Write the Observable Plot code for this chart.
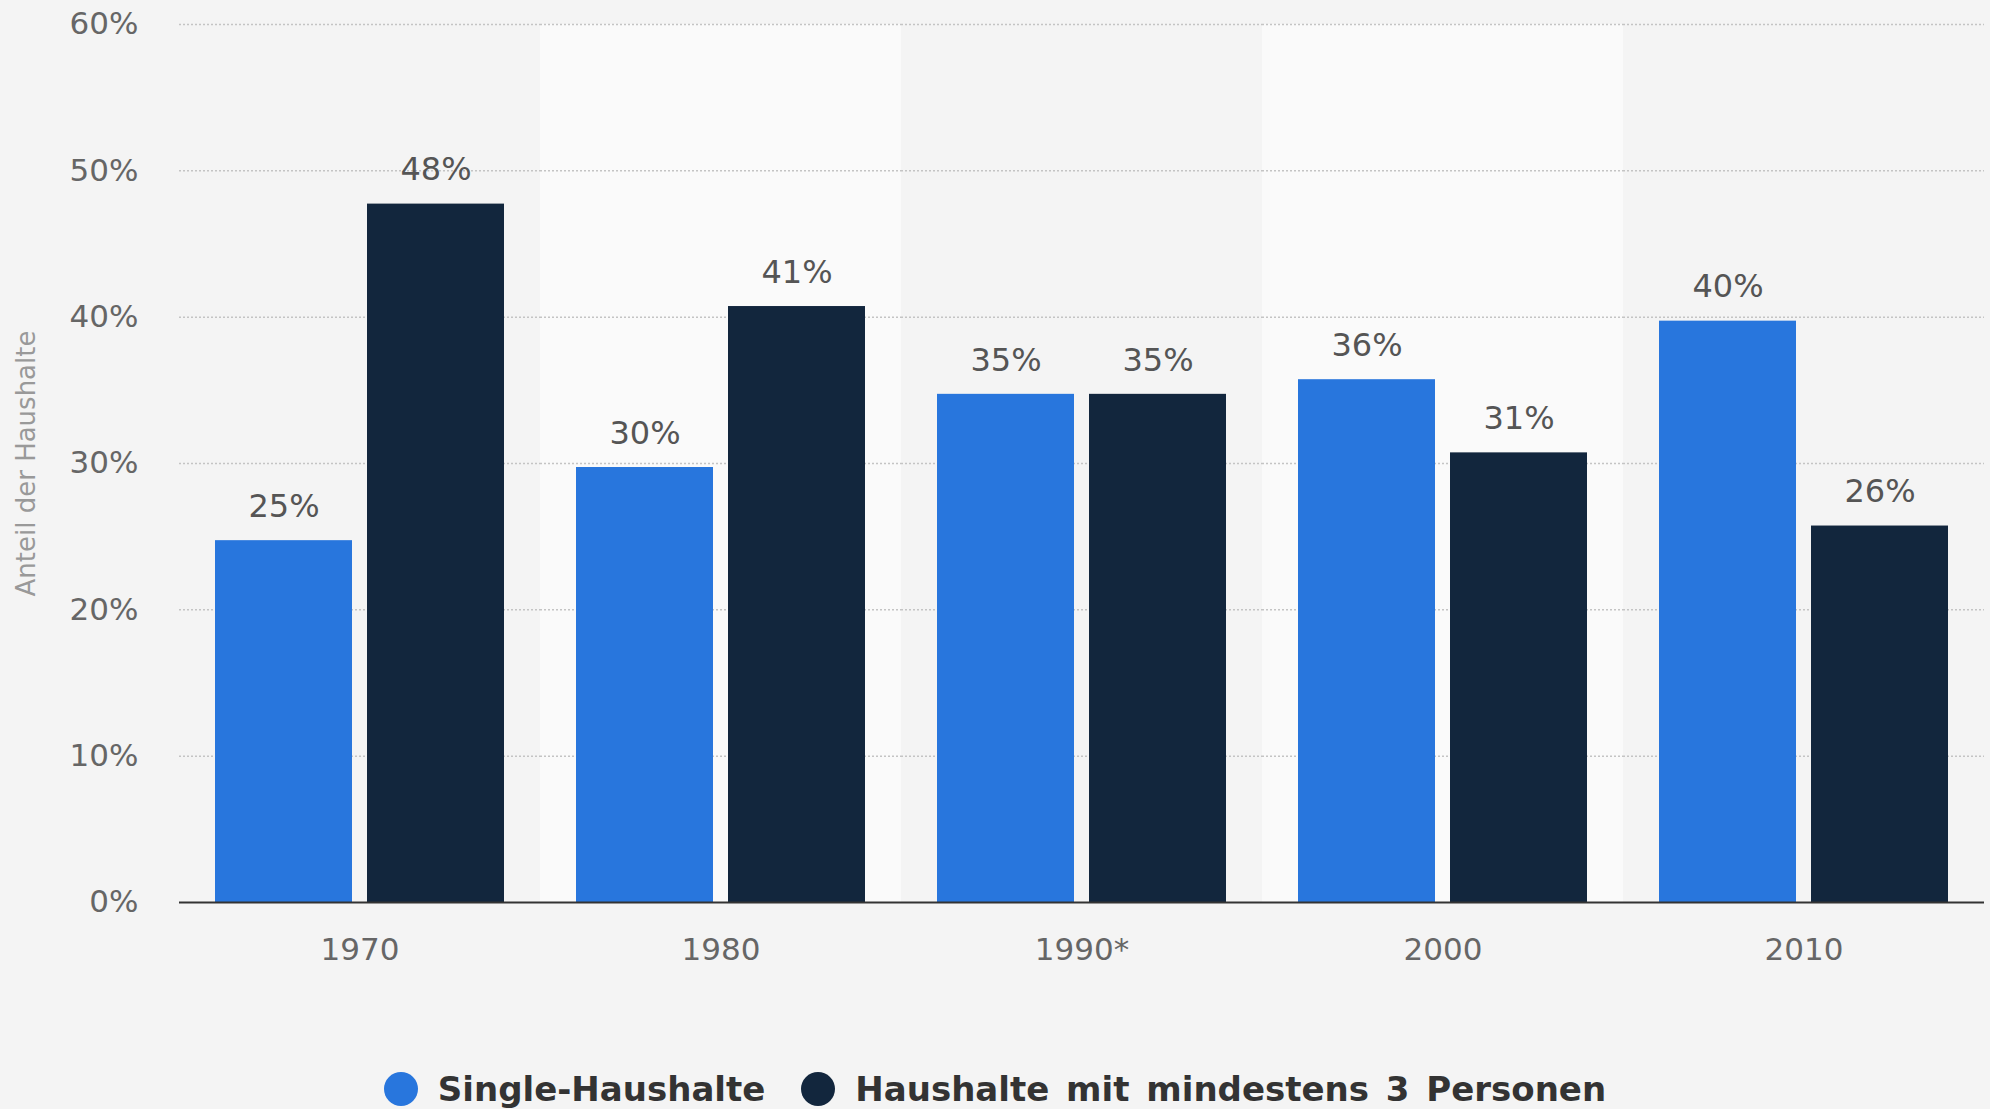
<!DOCTYPE html>
<html><head><meta charset="utf-8">
<script src="https://cdn.jsdelivr.net/npm/d3@7"></script>
<script src="https://cdn.jsdelivr.net/npm/@observablehq/plot@0.6"></script>
<style>
html,body{margin:0;padding:0;background:#f4f4f4;overflow:hidden;}
#chart{width:1990px;height:1050px;}
#legend{height:59px;box-sizing:border-box;padding-top:22px;display:flex;justify-content:center;align-items:flex-start;font-family:"DejaVu Sans",sans-serif;font-weight:bold;font-size:34px;color:#333;overflow:hidden;word-spacing:5px;}
.item{display:flex;align-items:center;height:34px;margin:0 18px;}
.sw{width:34px;height:34px;border-radius:50%;display:inline-block;margin-right:20px;}
</style></head><body>
<div id="chart"></div>
<div id="legend"></div>
<script>
const years = ["1970", "1980", "1990*", "2000", "2010"];
const seriesNames = ["Single-Haushalte", "Haushalte mit mindestens 3 Personen"];
const singleValues = [25, 30, 35, 36, 40];
const multiValues = [48, 41, 35, 31, 26];
const yTicks = [0, 10, 20, 30, 40, 50, 60];
const shadedYears = ["1980", "2000"];
const seriesColors = ["#2876dd", "#12263d"];
const yTitle = "Anteil der Haushalte";

const data = [];
years.forEach((y, i) => {
  data.push({year: y, series: seriesNames[0], value: singleValues[i]});
  data.push({year: y, series: seriesNames[1], value: multiValues[i]});
});
const bands = years.map(y => ({year: y, shaded: shadedYears.includes(y)}));

const chart = Plot.plot({
  width: 1990,
  height: 1050,
  marginTop: 24,
  marginBottom: 148,
  marginLeft: 178,
  marginRight: 6,
  style: {fontFamily: "DejaVu Sans", color: "#666", background: "transparent"},
  fx: {domain: years, padding: 0},
  x: {domain: seriesNames, paddingInner: 0.1, paddingOuter: 0.23, axis: null},
  y: {domain: [0, 60]},
  color: {domain: seriesNames, range: seriesColors},
  marks: [
    Plot.barY(bands, {fx: "year", y1: 0, y2: 60, fill: d => d.shaded ? "#fafafa" : "#f4f4f4"}),
    Plot.ruleY(yTicks.filter(d => d > 0), {stroke: "#c4c4c4", strokeWidth: 1.5, strokeDasharray: "2,2"}),
    Plot.barY(data, {fx: "year", x: "series", y: "value", fill: "series", insetTop: 4}),
    Plot.text(data, {fx: "year", x: "series", y: "value", text: d => d.value + "%", dy: -30, fontSize: 32, fill: "#555"}),
    Plot.ruleY([0], {stroke: "#333", strokeWidth: 2}),
    Plot.axisY({ticks: yTicks, tickFormat: d => d + "%", tickSize: 0, tickPadding: 41, fontSize: 31, label: null}),
    Plot.axisFx({anchor: "bottom", tickSize: 0, tickPadding: 35, fontSize: 31, label: null}),
    Plot.text([yTitle], {facet: "super", frameAnchor: "left", textAnchor: "middle", rotate: -90, dx: -153, fontSize: 26, fill: "#999"})
  ]
});
document.getElementById("chart").appendChild(chart);

const legend = document.getElementById("legend");
seriesNames.forEach((name, i) => {
  const item = document.createElement("div");
  item.className = "item";
  const sw = document.createElement("span");
  sw.className = "sw";
  sw.style.background = seriesColors[i];
  const t = document.createElement("span");
  t.textContent = name;
  item.appendChild(sw);
  item.appendChild(t);
  legend.appendChild(item);
});
</script>
</body></html>
